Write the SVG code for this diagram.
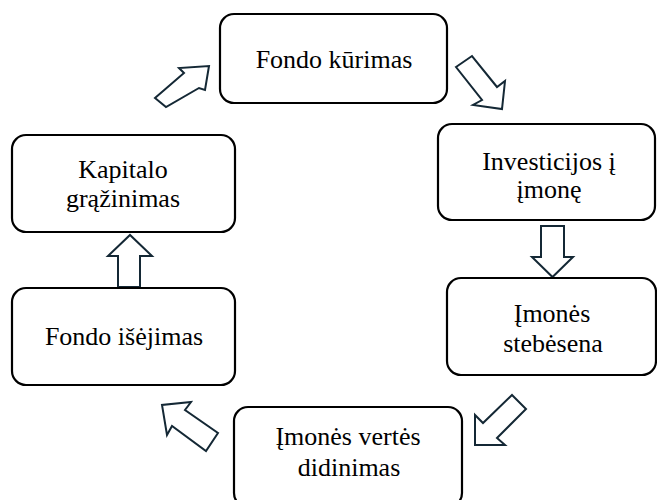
<svg xmlns="http://www.w3.org/2000/svg" width="657" height="500" viewBox="0 0 657 500">
<style>
.box{fill:#fff;stroke:#000;stroke-width:2.2}
.lbl{font-size:26px;fill:#000;text-anchor:middle}
.arr{fill:#fff;stroke:#142835;stroke-width:2;stroke-linejoin:miter}
</style>
<rect width="657" height="500" fill="#fff"/>
<g id="connectors">
<polygon class="arr" points="155,98 166,107 199,88 205,90 209,66 179,68 184,73"/>
<polygon class="arr" points="456,67 472,56 497,87 505,81 502,109 473,105 482,100"/>
<polygon class="arr" points="541,226 564,226 564,257 573,257 552.5,277 532,257 541,257"/>
<polygon class="arr" points="512,395 526,409 497,438 505,445 475,445 475,415 483,423"/>
<polygon class="arr" points="218,433 206,451 172,426 167,435 162,405 191,402 185,410"/>
<polygon class="arr" points="118,287 140,287 140,256 152,256 130,235 108,256 118,256"/>
</g>
<g font-family="'Liberation Serif', 'DejaVu Serif', serif">
<g id="n1"><rect class="box" x="220" y="14" width="227" height="89" rx="14"/><text class="lbl" x="334" y="68">Fondo kūrimas</text></g>
<g id="n2"><rect class="box" x="438" y="124" width="217" height="96" rx="14"/><text class="lbl" x="549" y="170">Investicijos į</text><text class="lbl" x="549" y="198">įmonę</text></g>
<g id="n3"><rect class="box" x="447" y="278" width="209" height="97" rx="14"/><text class="lbl" x="552" y="322">Įmonės</text><text class="lbl" x="553" y="352">stebėsena</text></g>
<g id="n4"><rect class="box" x="234" y="407" width="228" height="100" rx="14"/><text class="lbl" x="348" y="445">Įmonės vertės</text><text class="lbl" x="349" y="476">didinimas</text></g>
<g id="n5"><rect class="box" x="12" y="288" width="223" height="97" rx="14"/><text class="lbl" x="124" y="345">Fondo išėjimas</text></g>
<g id="n6"><rect class="box" x="12" y="135" width="223" height="97" rx="14"/><text class="lbl" x="123" y="178">Kapitalo</text><text class="lbl" x="123" y="207">grąžinimas</text></g>
</g>
</svg>
